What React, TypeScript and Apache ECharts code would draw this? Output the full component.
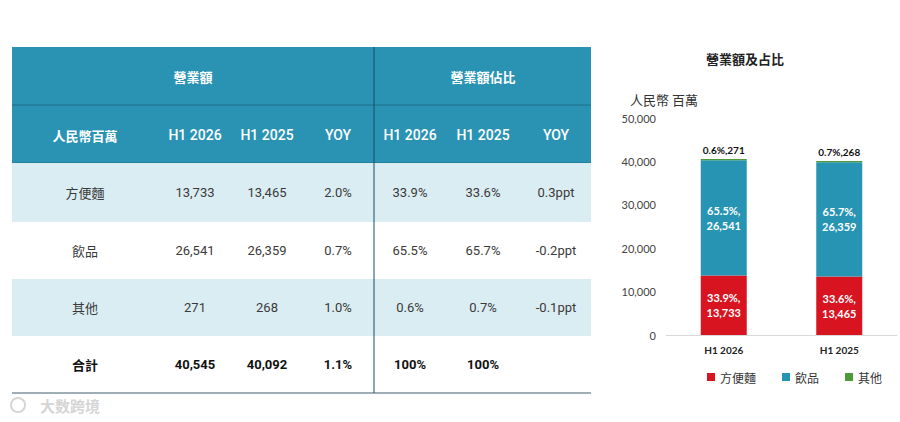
import React, { useEffect, useRef } from "react";
import * as echarts from "echarts";

const segments = ["方便麵", "飲品", "其他"];
const periods = ["H1 2026", "H1 2025"];
const rev2026 = [13733, 26541, 271];
const rev2025 = [13465, 26359, 268];
const revYoy = ["2.0%", "0.7%", "1.0%"];
const share2026 = ["33.9%", "65.5%", "0.6%"];
const share2025 = ["33.6%", "65.7%", "0.7%"];
const shareYoy = ["0.3ppt", "-0.2ppt", "-0.1ppt"];
const totalRow = ["合計", "40,545", "40,092", "1.1%", "100%", "100%", ""];
const headerTop = ["營業額", "營業額佔比"];
const headerCols = ["人民幣百萬", "H1 2026", "H1 2025", "YOY", "H1 2026", "H1 2025", "YOY"];
const yTicks = [0, 10000, 20000, 30000, 40000, 50000];

const seriesColors = ["#D7141F", "#2794B3", "#4E9A3A"];
const fmt = (n: number) => n.toLocaleString("en-US");

export default function App() {
  const ref = useRef<HTMLDivElement>(null);
  useEffect(() => {
    const chart = echarts.init(ref.current!, null, { renderer: "svg" });

    const tL = 12, tR = 591, divX = 374;
    const colX = [85, 195, 267, 338, 410, 483, 556];
    const rowTops = [47, 105, 163, 222, 279, 336];
    const rowBottom = 393;
    const cjk = '"Noto Sans CJK TC", "Noto Sans", sans-serif';
    const num = 'Roboto, "Noto Sans", sans-serif';
    const g: any[] = [];
    g.push({ type: "rect", shape: { x: tL, y: rowTops[0], width: tR - tL, height: rowTops[2] - rowTops[0] }, style: { fill: "#2A93B3" } });
    g.push({ type: "line", shape: { x1: tL, y1: rowTops[1], x2: tR, y2: rowTops[1] }, style: { stroke: "#1E6C87", lineWidth: 1 } });
    g.push({ type: "line", shape: { x1: tL, y1: rowTops[2], x2: tR, y2: rowTops[2] }, style: { stroke: "#1E6C87", lineWidth: 1 } });
    const bodyRows: string[][] = segments.map((s, i) => [s, fmt(rev2026[i]), fmt(rev2025[i]), revYoy[i], share2026[i], share2025[i], shareYoy[i]]);
    bodyRows.push(totalRow);
    bodyRows.forEach((row, r) => {
      const top = rowTops[2 + r];
      const bottom = r + 3 < rowTops.length ? rowTops[3 + r] : rowBottom;
      if (r % 2 === 0 && r < 3) {
        g.push({ type: "rect", shape: { x: tL, y: top, width: tR - tL, height: bottom - top }, style: { fill: "#DAEDF2" } });
      }
      const isTotal = r === 3;
      row.forEach((t, c) => {
        g.push({
          type: "text",
          x: colX[c],
          y: (top + bottom) / 2,
          style: {
            text: t,
            fill: isTotal ? "#111" : "#3a3a3a",
            font: `${isTotal ? "bold " : ""}13px ${c === 0 ? cjk : num}`,
            textAlign: "center",
            textVerticalAlign: "middle",
          },
        });
      });
    });
    g.push({ type: "text", x: 193, y: 76, style: { text: headerTop[0], fill: "#fff", font: `bold 13px ${cjk}`, textAlign: "center", textVerticalAlign: "middle" } });
    g.push({ type: "text", x: 483, y: 76, style: { text: headerTop[1], fill: "#fff", font: `bold 13px ${cjk}`, textAlign: "center", textVerticalAlign: "middle" } });
    headerCols.forEach((t, c) => {
      g.push({ type: "text", x: colX[c], y: 135, style: { text: t, fill: "#fff", font: `${c === 0 ? "bold 13px " + cjk : "500 14px " + num}`, textAlign: "center", textVerticalAlign: "middle" } });
    });
    g.push({ type: "line", shape: { x1: tL, y1: rowBottom, x2: tR, y2: rowBottom }, style: { stroke: "#9FAEB6", lineWidth: 2 } });
    g.push({ type: "line", shape: { x1: divX, y1: rowTops[0], x2: divX, y2: rowBottom }, style: { stroke: "#1D4A66", lineWidth: 1 } });
    g.push({ type: "text", x: 40, y: 405, style: { text: "大数跨境", fill: "#D5D5D5", font: `bold 15px ${cjk}`, textVerticalAlign: "middle" } });
    g.push({ type: "circle", shape: { cx: 18, cy: 405, r: 7 }, style: { fill: "none", stroke: "#D5D5D5", lineWidth: 2 } });
    g.push({ type: "text", x: 745, y: 58, style: { text: "營業額及占比", fill: "#222", font: `bold 13px ${cjk}`, textAlign: "center", textVerticalAlign: "middle" } });
    g.push({ type: "text", x: 630, y: 99, style: { text: "人民幣 百萬", fill: "#333", font: `13px ${cjk}`, textVerticalAlign: "middle" } });

    const shares = [share2026, share2025];
    const lbl = (segIdx: number) => (p: any) => `${shares[p.dataIndex][segIdx]},\n${fmt(p.value)}`;

    chart.setOption({
      animation: false,
      graphic: g,
      grid: { left: 666, right: 3, top: 118, bottom: 87 },
      legend: {
        left: 702,
        top: 366,
        itemWidth: 8,
        itemHeight: 8,
        itemGap: 26,
        icon: "rect",
        textStyle: { fontSize: 12, color: "#333", fontFamily: cjk },
        data: segments,
      },
      xAxis: {
        type: "category",
        data: periods,
        axisLine: { lineStyle: { color: "#D9D9D9" } },
        axisTick: { lineStyle: { color: "#D9D9D9" } },
        axisLabel: { color: "#222", fontWeight: "bold", fontSize: 10, fontFamily: "Lato, sans-serif", margin: 10 },
      },
      yAxis: {
        type: "value",
        min: yTicks[0],
        max: yTicks[yTicks.length - 1],
        interval: 10000,
        splitLine: { show: false },
        axisLine: { show: false },
        axisTick: { show: false },
        axisLabel: { color: "#444", fontSize: 11, fontFamily: "Lato, sans-serif", margin: 10, formatter: (v: number) => fmt(v) },
      },
      series: [
        {
          name: segments[0], type: "bar", stack: "t", barWidth: 46, data: periods.map((_, i) => [rev2026, rev2025][i][0]),
          itemStyle: { color: seriesColors[0] },
          label: { show: true, position: "inside", color: "#fff", fontWeight: "bold", fontSize: 11, lineHeight: 15, fontFamily: "Lato, sans-serif", formatter: lbl(0) },
        },
        {
          name: segments[1], type: "bar", stack: "t", barWidth: 46, data: periods.map((_, i) => [rev2026, rev2025][i][1]),
          itemStyle: { color: seriesColors[1] },
          label: { show: true, position: "inside", color: "#fff", fontWeight: "bold", fontSize: 11, lineHeight: 15, fontFamily: "Lato, sans-serif", formatter: lbl(1) },
        },
        {
          name: segments[2], type: "bar", stack: "t", barWidth: 46, data: periods.map((_, i) => [rev2026, rev2025][i][2]),
          itemStyle: { color: seriesColors[2] },
          label: { show: true, position: "top", distance: 4, color: "#111", fontWeight: "bold", fontSize: 10, fontFamily: "Lato, sans-serif", formatter: (p: any) => `${shares[p.dataIndex][2]},${fmt(p.value)}` },
        },
      ],
    });
    return () => chart.dispose();
  }, []);
  return <div ref={ref} style={{ position: "fixed", left: 0, top: 0, width: 900, height: 422, background: "#fff" }} />;
}
